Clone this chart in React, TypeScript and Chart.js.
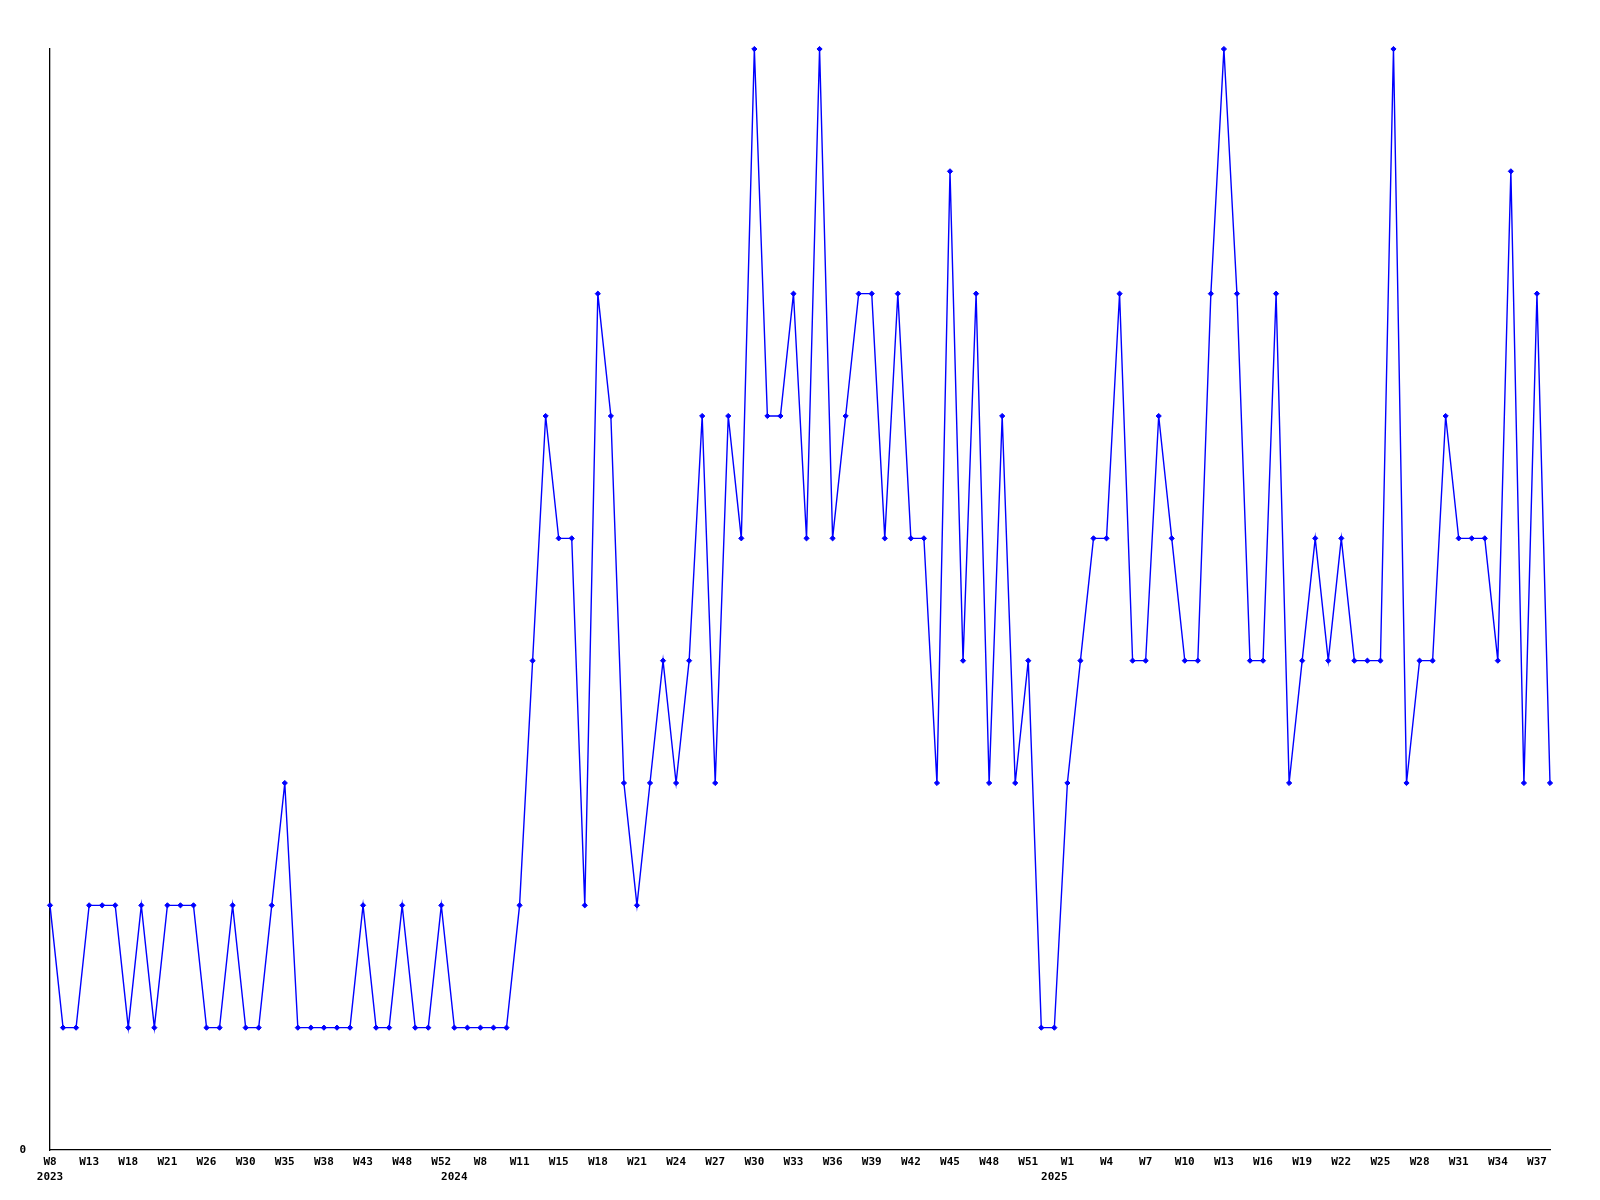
import { useEffect, useRef } from "react";
import { Chart, registerables } from "chart.js";

Chart.register(...registerables);

// Week category of each data point (one point per recorded week)
const weekLabels = [
  "W8", "W10", "W11", "W13", "W15", "W16", "W18", "W19", "W20", "W21",
  "W23", "W25", "W26", "W28", "W29", "W30", "W32", "W34", "W35", "W36",
  "W37", "W38", "W40", "W42", "W43", "W45", "W47", "W48", "W50", "W51",
  "W52", "W0", "W4", "W8", "W9", "W10", "W11", "W12", "W14", "W15",
  "W16", "W17", "W18", "W19", "W20", "W21", "W22", "W23", "W24", "W25",
  "W26", "W27", "W28", "W29", "W30", "W31", "W32", "W33", "W34", "W35",
  "W36", "W37", "W38", "W39", "W40", "W41", "W42", "W43", "W44", "W45",
  "W46", "W47", "W48", "W49", "W50", "W51", "W52", "W0", "W1", "W2",
  "W3", "W4", "W5", "W6", "W7", "W8", "W9", "W10", "W11", "W12",
  "W13", "W14", "W15", "W16", "W17", "W18", "W19", "W20", "W21", "W22",
  "W23", "W24", "W25", "W26", "W27", "W28", "W29", "W30", "W31", "W32",
  "W33", "W34", "W35", "W36", "W37", "W38",
];

// Values per week
const values = [
  2, 1, 1, 2, 2, 2, 1, 2, 1, 2,
  2, 2, 1, 1, 2, 1, 1, 2, 3, 1,
  1, 1, 1, 1, 2, 1, 1, 2, 1, 1,
  2, 1, 1, 1, 1, 1, 2, 4, 6, 5,
  5, 2, 7, 6, 3, 2, 3, 4, 3, 4,
  6, 3, 6, 5, 9, 6, 6, 7, 5, 9,
  5, 6, 7, 7, 5, 7, 5, 5, 3, 8,
  4, 7, 3, 6, 3, 4, 1, 1, 3, 4,
  5, 5, 7, 4, 4, 6, 5, 4, 4, 7,
  9, 7, 4, 4, 7, 3, 4, 5, 4, 5,
  4, 4, 4, 9, 3, 4, 4, 6, 5, 5,
  5, 4, 8, 3, 7, 3,
];

// Year markers: index of first point of each year
const yearStartIndex = [0, 31, 77];
const yearLabels = ["2023", "2024", "2025"];

const labelStep = 3;
const yTicks = [0];
const yMax = 9;

export default function App() {
  const ref = useRef<HTMLCanvasElement | null>(null);

  useEffect(() => {
    if (!ref.current) return;
    const font = { family: "'DejaVu Sans Mono', monospace", size: 11, weight: "bold" as const, lineHeight: 15 / 11 };
    const chart = new Chart(ref.current, {
      type: "line",
      data: {
        labels: weekLabels,
        datasets: [
          {
            data: values,
            borderColor: "#0000ff",
            backgroundColor: "#0000ff",
            borderWidth: 1.4,
            pointStyle: "rectRot",
            pointRadius: 2.6,
            pointBorderWidth: 1,
            pointBackgroundColor: "#0000ff",
            pointBorderColor: "#0000ff",
            tension: 0,
            fill: false,
            clip: false,
          },
        ],
      },
      options: {
        animation: false,
        responsive: false,
        devicePixelRatio: 1,
        layout: { padding: { top: 49, right: 50, left: 0, bottom: 0 } },
        plugins: { legend: { display: false }, tooltip: { enabled: false } },
        scales: {
          x: {
            type: "category",
            offset: false,
            grid: { display: false, drawTicks: false },
            border: { display: true, color: "#000000", width: 1.3 },
            afterFit: (s: any) => {
              s.height = 50;
            },
            ticks: {
              autoSkip: false,
              maxRotation: 0,
              minRotation: 0,
              padding: 5,
              color: "#000000",
              font,
              callback: (_v: any, index: number) => {
                const w = index % labelStep === 0 ? weekLabels[index] : "";
                const yi = yearStartIndex.indexOf(index);
                const y = yi >= 0 ? yearLabels[yi] : "";
                if (!w && !y) return "";
                return y ? [w, y] : w;
              },
            },
          },
          y: {
            min: 0,
            max: yMax,
            grid: { display: false, drawTicks: false },
            border: { display: true, color: "#000000", width: 1.3 },
            afterFit: (s: any) => {
              s.width = 50;
            },
            afterBuildTicks: (s: any) => {
              s.ticks = yTicks.map((v) => ({ value: v }));
            },
            ticks: {
              padding: 24,
              color: "#000000",
              font,
            },
          },
        },
      },
    });
    return () => chart.destroy();
  }, []);

  return (
    <div style={{ position: "absolute", left: 0, top: 0, width: 1600, height: 1200, background: "#ffffff" }}>
      <canvas ref={ref} width={1600} height={1200} style={{ width: 1600, height: 1200 }} />
    </div>
  );
}
